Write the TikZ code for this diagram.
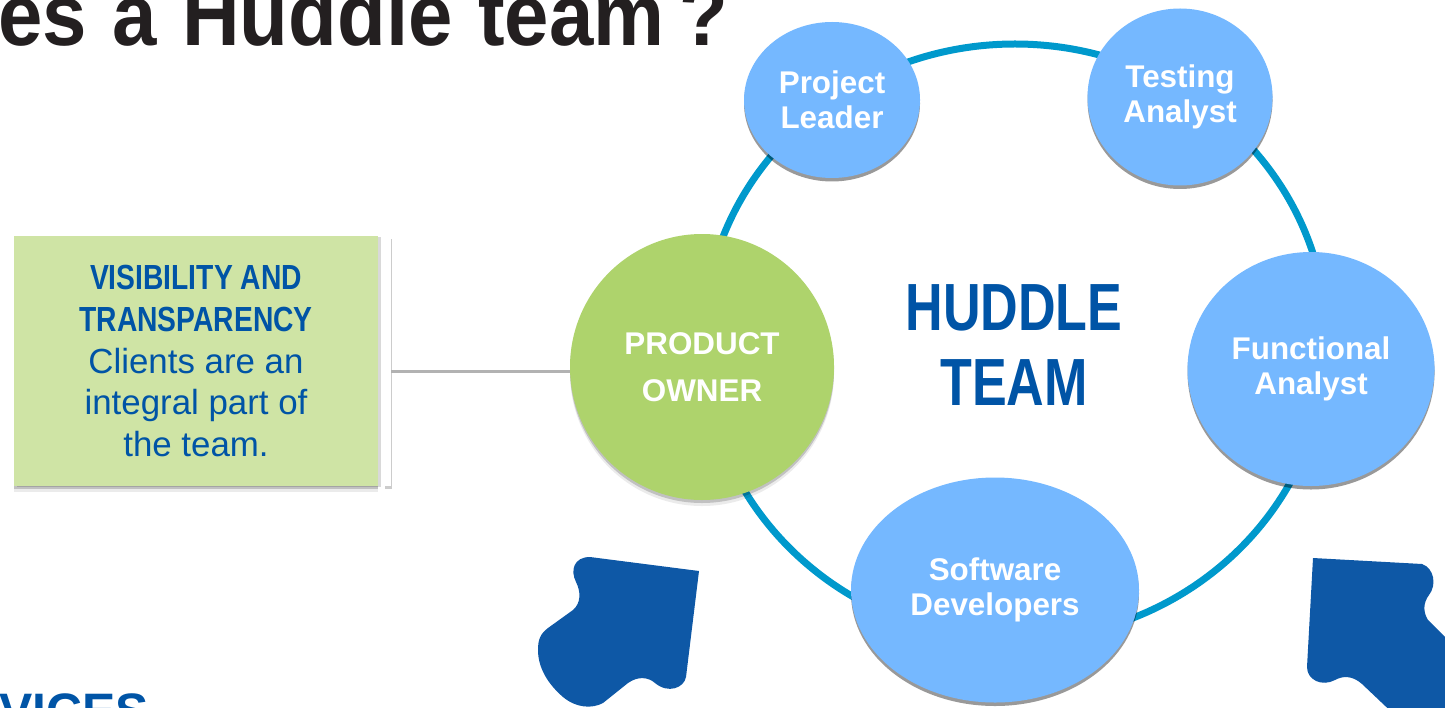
\documentclass[tikz,border=0pt]{standalone}
\usepackage{fontspec}
\setmainfont{Liberation Sans}
\newfontfamily\squeezefont[FakeStretch=0.81]{Liberation Sans}
\newfontfamily\titlefont[FakeStretch=0.91,WordSpace=1.15]{Liberation Sans}
\newfontfamily\hubfont[FakeStretch=0.78]{Liberation Sans}
\usetikzlibrary{shapes.geometric, shadows}
\definecolor{ringblue}{HTML}{0099CC}
\definecolor{bubbleblue}{HTML}{75B8FF}
\definecolor{ownergreen}{HTML}{AED36C}
\definecolor{boxgreen}{HTML}{CFE4A5}
\definecolor{textblue}{HTML}{0054A6}
\definecolor{blobblue}{HTML}{0E58A6}
\definecolor{titlegray}{HTML}{231F20}
\tikzstyle{softshadow} = [drop shadow={shadow xshift=0bp, shadow yshift=-6bp, fill=black, opacity=0.08}, drop shadow={shadow xshift=0bp, shadow yshift=-3bp, fill=black, opacity=0.18}]
\tikzstyle{bubble} = [ellipse, inner sep=0pt, fill=bubbleblue, text=white, align=center, font=\fontsize{31.5}{35}\selectfont\bfseries, drop shadow={shadow xshift=0bp, shadow yshift=-3.5bp, fill=black, opacity=0.4}]
\tikzstyle{owner} = [ellipse, inner sep=0pt, fill=ownergreen, text=white, align=center, font=\fontsize{31.5}{47}\selectfont\bfseries, softshadow]
\tikzstyle{ringline} = [ellipse, inner sep=0pt, draw=ringblue, line width=7bp, minimum width=624bp, minimum height=596bp]
\tikzstyle{infobox} = [rectangle, fill=boxgreen, text=textblue, align=center, minimum width=364bp, minimum height=250bp, font=\fontsize{35}{42}\selectfont, softshadow, drop shadow={shadow xshift=3bp, shadow yshift=-1bp, fill=black, opacity=0.15}]
\tikzstyle{barline} = [rectangle, inner sep=0pt, fill=white, minimum width=7bp, minimum height=250bp, drop shadow={shadow xshift=1bp, shadow yshift=-3bp, fill=black, opacity=0.2}]
\tikzstyle{linkline} = [draw=black!30, line width=3.5bp]
\tikzstyle{hublabel} = [text=textblue, align=center, font=\hubfont\fontsize{67}{76}\selectfont\bfseries]
\tikzstyle{blob} = [fill=blobblue]

\begin{document}
\begin{tikzpicture}[x=1bp, y=-1bp, node distance=100bp]
  \clip [use as bounding box] (0,0) rectangle (1445,708);

  \node (title) [anchor=base west, text=titlegray, inner sep=0pt, font=\titlefont\fontsize{88}{88}\selectfont\bfseries] at (-2,46) {es a Huddle team \kern-10bp ?};
  \node (services) [anchor=base east, text=textblue, inner sep=0pt, font=\fontsize{50}{50}\selectfont\bfseries] at (149,728) {VICES};

  \node (visbox) [infobox] at (196,361) {{\squeezefont\bfseries VISIBILITY AND}\\{\squeezefont\bfseries TRANSPARENCY}\\Clients are an\\integral part of\\the team.};
  \node (bar) [barline, right of=visbox, xshift=91.5bp] {};
  \node (ring) [ringline, right of=visbox, xshift=719bp, yshift=19bp] {};
  \node (hub) [hublabel, xshift=-1bp, yshift=-3bp] at (ring) {HUDDLE\\TEAM};

  \node (product) [owner, minimum width=264bp, minimum height=266bp, right of=visbox, xshift=406bp, yshift=-6bp] {PRODUCT\\OWNER};
  \node (leader) [bubble, minimum width=176bp, minimum height=156bp, above of=product, xshift=130bp, yshift=167bp] {Project\\Leader};
  \node (testing) [bubble, minimum width=185bp, minimum height=177bp, right of=leader, xshift=248bp, yshift=3bp] {Testing\\Analyst};
  \node (functional) [bubble, minimum width=247bp, minimum height=234bp, below of=testing, xshift=131bp, yshift=-172bp] {Functional\\Analyst};
  \node (software) [bubble, minimum width=288bp, minimum height=225bp, below of=product, xshift=293bp, yshift=-123bp] {Software\\Developers};

  \coordinate (linkstart) at (391,371.5);
  \draw [linkline] (linkstart) -- (linkstart -| product.west);

  \fill [blob] (699,571) -- (686,677) .. controls (684,688) and (668,694) .. (655,683) .. controls (648,677) and (638,676) .. (628,683) -- (603,703) .. controls (592,709) and (576,708) .. (563,697) .. controls (548,684) and (538,668) .. (538,650) .. controls (538,640) and (540,634) .. (548,628) -- (573,610) .. controls (581,603) and (581,592) .. (576,582) .. controls (570,570) and (574,557) .. (590,557) -- cycle;
  \fill [blob] (1313,558) -- (1422,564) .. controls (1434,568) and (1437,585) .. (1429,595) .. controls (1423,603) and (1423,612) .. (1428,620) -- (1445,637) -- (1470,660) -- (1450,720) -- (1400,720) -- (1362,684) .. controls (1352,675) and (1342,676) .. (1335,680) .. controls (1322,687) and (1307,680) .. (1307,667) -- cycle;
\end{tikzpicture}
\end{document}
